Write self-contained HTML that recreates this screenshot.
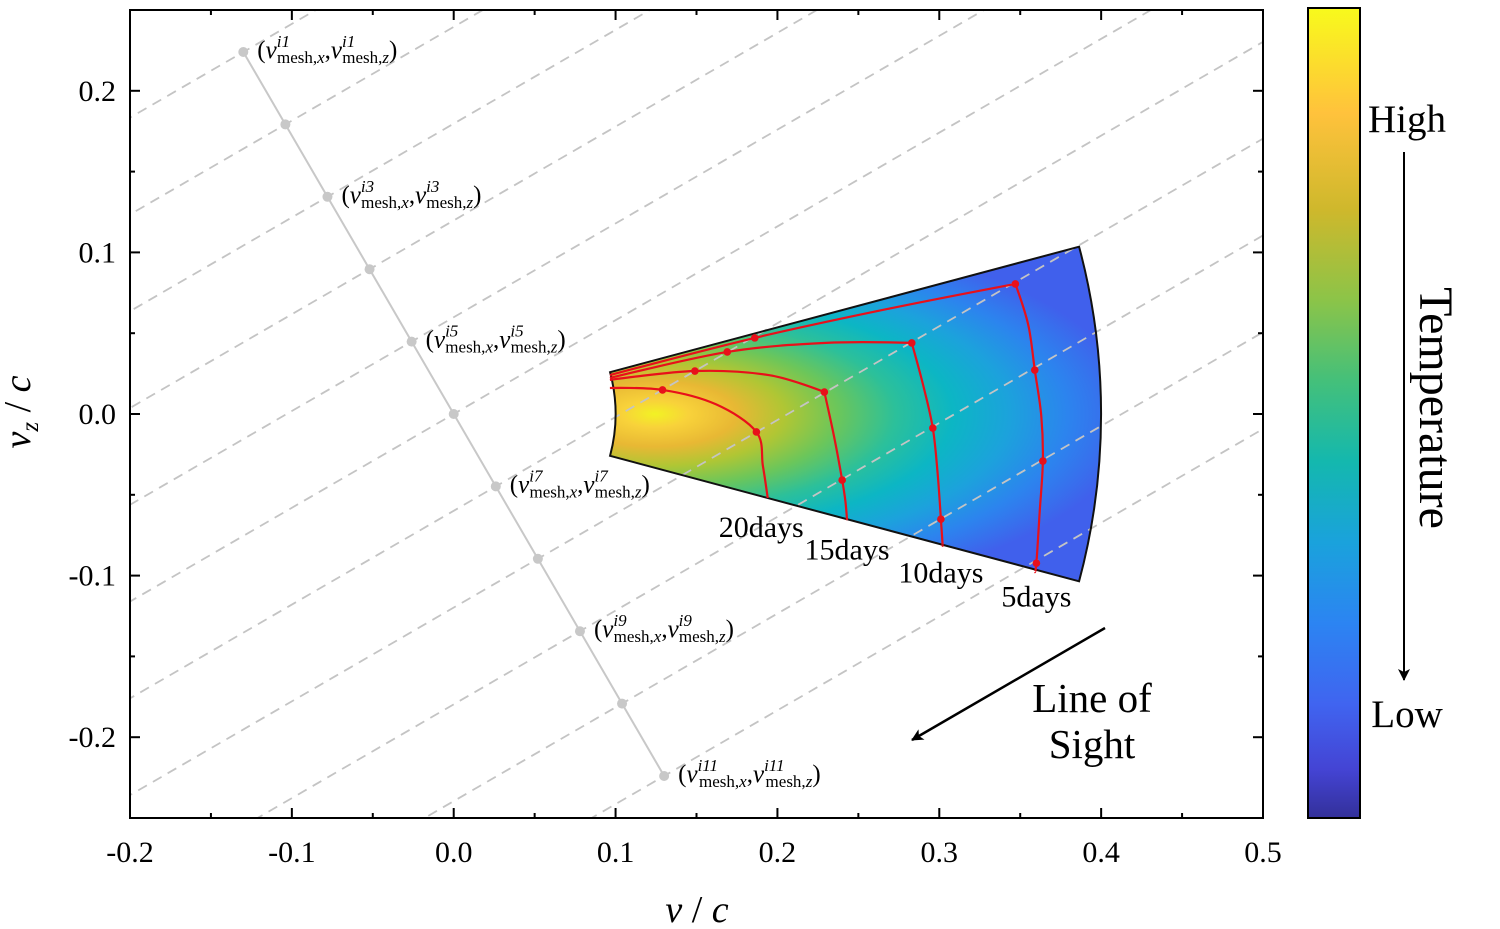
<!DOCTYPE html>
<html><head><meta charset="utf-8"><style>
html,body{margin:0;padding:0;background:#fff;width:1500px;height:929px;overflow:hidden;}
svg{display:block;font-family:"Liberation Serif",serif;}
</style></head><body>
<svg id="chart" width="1500" height="929" viewBox="0 0 1500 929">
<defs>
<clipPath id="plotclip"><rect x="130" y="10" width="1133" height="808"/></clipPath>
<radialGradient id="heat" gradientUnits="userSpaceOnUse" cx="655" cy="414" r="480" gradientTransform="translate(655 414) scale(1 0.40) translate(-655 -414)">
<stop offset="0" stop-color="#f2f224"/>
<stop offset="0.07" stop-color="#f8d23a"/>
<stop offset="0.17" stop-color="#e8b834"/>
<stop offset="0.27" stop-color="#b0c634"/>
<stop offset="0.38" stop-color="#6cc65a"/>
<stop offset="0.50" stop-color="#2cc09a"/>
<stop offset="0.62" stop-color="#0cb6c4"/>
<stop offset="0.74" stop-color="#1ca2dc"/>
<stop offset="0.86" stop-color="#2c84ee"/>
<stop offset="1" stop-color="#4060ec"/>
</radialGradient>
<linearGradient id="cbar" x1="0" y1="0" x2="0" y2="1">
<stop offset="0" stop-color="#f8fa1c"/>
<stop offset="0.13" stop-color="#ffc23c"/>
<stop offset="0.25" stop-color="#ceb82c"/>
<stop offset="0.36" stop-color="#8cc448"/>
<stop offset="0.46" stop-color="#44c07a"/>
<stop offset="0.56" stop-color="#14b8ae"/>
<stop offset="0.66" stop-color="#1aa2dc"/>
<stop offset="0.76" stop-color="#2c84f2"/>
<stop offset="0.86" stop-color="#4064f0"/>
<stop offset="0.94" stop-color="#4444d4"/>
<stop offset="1" stop-color="#33309a"/>
</linearGradient>
<marker id="ah" markerWidth="12" markerHeight="12" refX="11" refY="6" orient="auto" markerUnits="userSpaceOnUse"><path d="M0,0 L12,6 L0,12 L3,6 z" fill="#000"/></marker>
</defs>
<g id="plot"></g>
</svg>
<script>
const xDomain=[-0.2,0.5], yDomain=[-0.25,0.25];
const xTicks=[-0.2,-0.1,0.0,0.1,0.2,0.3,0.4,0.5];
const xTickLabels=["-0.2","-0.1","0.0","0.1","0.2","0.3","0.4","0.5"];
const yTicks=[-0.2,-0.1,0.0,0.1,0.2];
const yTickLabels=["-0.2","-0.1","0.0","0.1","0.2"];
const wedgeR=[0.1,0.4];
const wedgeAngleDeg=[-15,15];
const meshStep=[0.026,-0.0448];
const meshIndex=[-5,-4,-3,-2,-1,0,1,2,3,4,5];
const meshLabelIdx=[1,3,5,7,9,11];
const contourNames=["5days","10days","15days","20days"];
const contour5x=[0.0965,0.186,0.268,0.347,0.355,0.359,0.363,0.364,0.362,0.360,0.359];
const contour5y=[0.0241,0.0471,0.0650,0.0805,0.0550,0.0272,-0.0010,-0.0291,-0.0610,-0.0923,-0.0978];
const contour10x=[0.0965,0.169,0.230,0.283,0.290,0.296,0.299,0.301,0.302,0.302];
const contour10y=[0.0223,0.0384,0.0440,0.0440,0.0180,-0.0087,-0.0370,-0.0651,-0.0800,-0.0811];
const contour15x=[0.0965,0.149,0.195,0.229,0.235,0.240,0.242,0.243];
const contour15y=[0.0211,0.0266,0.0240,0.0136,-0.0140,-0.0409,-0.0540,-0.0657];
const contour20x=[0.0965,0.129,0.162,0.187,0.191,0.194];
const contour20y=[0.0161,0.0149,0.0060,-0.0111,-0.0320,-0.0520];
const contourDotsX=[0.347,0.359,0.364,0.360,0.186,0.169,0.149,0.129,0.283,0.296,0.301,0.229,0.240,0.187];
const contourDotsY=[0.0805,0.0272,-0.0291,-0.0923,0.0471,0.0384,0.0266,0.0149,0.0440,-0.0087,-0.0651,0.0136,-0.0409,-0.0111];
const dayLabelX=[0.360,0.301,0.243,0.190];
const dayLabelY=[-0.113,-0.098,-0.084,-0.070];

const X0=130,X1=1263,Y0=818,Y1=10;
const sx=v=>X0+(v-xDomain[0])/(xDomain[1]-xDomain[0])*(X1-X0);
const sy=v=>Y0-(v-yDomain[0])/(yDomain[1]-yDomain[0])*(Y0-Y1);
const NS="http://www.w3.org/2000/svg";
const g=document.getElementById('plot');
function mk(tag,attrs,parent){const e=document.createElementNS(NS,tag);for(const k in attrs)e.setAttribute(k,attrs[k]);(parent||g).appendChild(e);return e;}
function smooth(pts){
  const n=pts.length;
  const tan=pts.map((p,i)=>{
    if(i===0||i===n-1)return [0,0];
    const a=pts[i-1],b=pts[i+1];
    const v1=[p[0]-a[0],p[1]-a[1]],v2=[b[0]-p[0],b[1]-p[1]];
    const cos=(v1[0]*v2[0]+v1[1]*v2[1])/(Math.hypot(...v1)*Math.hypot(...v2));
    if(cos<0.6)return [0,0];
    return [(b[0]-a[0])/6,(b[1]-a[1])/6];
  });
  let d=`M${pts[0][0]},${pts[0][1]}`;
  for(let i=0;i<n-1;i++){
    const p1=pts[i],p2=pts[i+1];
    d+=` C${p1[0]+tan[i][0]},${p1[1]+tan[i][1]} ${p2[0]-tan[i+1][0]},${p2[1]-tan[i+1][1]} ${p2[0]},${p2[1]}`;
  }
  return d;
}

const cg=mk('g',{'clip-path':'url(#plotclip)'});



const a0=wedgeAngleDeg[0]*Math.PI/180,a1=wedgeAngleDeg[1]*Math.PI/180;
const pr=(r,a)=>[sx(r*Math.cos(a)),sy(r*Math.sin(a))];
const rin=sx(wedgeR[0])-sx(0), rout=sx(wedgeR[1])-sx(0);
const p1=pr(wedgeR[0],a1),p2=pr(wedgeR[1],a1),p3=pr(wedgeR[1],a0),p4=pr(wedgeR[0],a0);
const wd=`M${p1} L${p2} A${rout},${rout} 0 0 1 ${p3} L${p4} A${rin},${rin} 0 0 0 ${p1} Z`;
const wedge=mk('path',{d:wd,fill:'url(#heat)',stroke:'none'},cg);



meshIndex.forEach(k=>{
  const px=k*meshStep[0], py=k*meshStep[1];
  const len=Math.hypot(meshStep[0],meshStep[1]);
  const dx=-meshStep[1]/len, dy=meshStep[0]/len;
  const l=mk('line',{x1:sx(px-dx),y1:sy(py-dy),x2:sx(px+dx),y2:sy(py+dy),stroke:'#c4c4c4','stroke-width':1.8,'stroke-dasharray':'10,7'},cg);
  
  
});

const wo=mk('path',{d:wd,fill:'none',stroke:'#111','stroke-width':2},cg);



const cxs=[contour5x,contour10x,contour15x,contour20x],cys=[contour5y,contour10y,contour15y,contour20y];
cxs.forEach((xs,i)=>{
  const pts=xs.map((x,j)=>[sx(x),sy(cys[i][j])]);
  const pl=mk('path',{d:smooth(pts),fill:'none',stroke:'#e8101a','stroke-width':2.2,'stroke-linejoin':'round'},cg);
  
  
});
contourDotsX.forEach((x,i)=>{
  const c=mk('circle',{cx:sx(x),cy:sy(contourDotsY[i]),r:3.8,fill:'#e8101a'},cg);
  
  
});
contourNames.forEach((n,i)=>{
  const t=mk('text',{x:sx(dayLabelX[i]),y:sy(dayLabelY[i])+10,'font-size':30,'text-anchor':'middle'},cg);
  t.textContent=n;
  
  
});

const gl=mk('line',{x1:sx(meshIndex[0]*meshStep[0]),y1:sy(meshIndex[0]*meshStep[1]),x2:sx(meshIndex[10]*meshStep[0]),y2:sy(meshIndex[10]*meshStep[1]),stroke:'#c8c8c8','stroke-width':2},cg);


meshIndex.forEach((k,i)=>{
  const x=sx(k*meshStep[0]),y=sy(k*meshStep[1]);
  const c=mk('circle',{cx:x,cy:y,r:5,fill:'#c8c8c8'},cg);
  
  
  if(meshLabelIdx.includes(i+1)){
    const t=mk('text',{x:x+14,y:y+6,'font-size':25},cg);
    
    
    const id='i'+(i+1);
    const back=id.length*6+1;
    t.innerHTML=`(<tspan font-style="italic">v</tspan><tspan font-size="17" dy="-11" font-style="italic">${id}</tspan><tspan font-size="17" dx="-${back}" dy="16">mesh,<tspan font-style="italic">x</tspan></tspan><tspan dy="-5">,</tspan><tspan font-style="italic">v</tspan><tspan font-size="17" dy="-11" font-style="italic">${id}</tspan><tspan font-size="17" dx="-${back}" dy="16">mesh,<tspan font-style="italic">z</tspan></tspan><tspan dy="-5">)</tspan>`;
  }
});

const fr=mk('rect',{x:X0,y:Y1,width:X1-X0,height:Y0-Y1,fill:'none',stroke:'#000','stroke-width':2});



for(let v=xDomain[0];v<=xDomain[1]+1e-9;v+=0.05){
  const major=Math.abs(Math.round(v*10)-v*10)<1e-6, L=major?10:5, x=sx(v);
  mk('line',{x1:x,y1:Y0,x2:x,y2:Y0-L,stroke:'#000','stroke-width':2});
  mk('line',{x1:x,y1:Y1,x2:x,y2:Y1+L,stroke:'#000','stroke-width':2});
}
for(let v=-0.25;v<=0.25+1e-9;v+=0.05){
  const major=Math.abs(Math.round(v*10)-v*10)<1e-6, L=major?10:5, y=sy(v);
  mk('line',{x1:X0,y1:y,x2:X0+L,y2:y,stroke:'#000','stroke-width':2});
  mk('line',{x1:X1,y1:y,x2:X1-L,y2:y,stroke:'#000','stroke-width':2});
}
xTicks.forEach((v,i)=>{
  const t=mk('text',{x:sx(v),y:862,'font-size':30,'text-anchor':'middle'});
  t.textContent=xTickLabels[i];
  
  
});
yTicks.forEach((v,i)=>{
  const t=mk('text',{x:116,y:sy(v)+10,'font-size':30,'text-anchor':'end'});
  t.textContent=yTickLabels[i];
  
  
});
const xt=mk('text',{x:697,y:922,'font-size':38,'text-anchor':'middle'});
xt.innerHTML='<tspan font-style="italic">v</tspan> / <tspan font-style="italic">c</tspan>';


const yt=mk('text',{x:0,y:0,'font-size':38,'text-anchor':'middle',transform:'translate(30 412) rotate(-90)'});
yt.innerHTML='<tspan font-style="italic">v</tspan><tspan font-size="25" font-style="italic" dy="8">z</tspan><tspan dy="-8"> / </tspan><tspan font-style="italic">c</tspan>';



const la=mk('line',{x1:1105,y1:628,x2:912,y2:740,stroke:'#000','stroke-width':2.5,'marker-end':'url(#ah)'});


[['Line of',712],['Sight',758]].forEach(([s,y])=>{
  const t=mk('text',{x:1092,y:y,'font-size':41,'text-anchor':'middle'});t.textContent=s;
  
  
});

const cb=mk('rect',{x:1308,y:8,width:52,height:810,fill:'url(#cbar)',stroke:'#000','stroke-width':2});


[['High',132],['Low',727]].forEach(([s,y])=>{
  const t=mk('text',{x:1407,y:y,'font-size':39,'text-anchor':'middle'});t.textContent=s;
  
  
});
const ca=mk('line',{x1:1404,y1:152,x2:1404,y2:680,stroke:'#000','stroke-width':2,'marker-end':'url(#ah)'});


const tt=mk('text',{x:0,y:0,'font-size':48,'text-anchor':'middle',transform:'translate(1420 408) rotate(90)'});
tt.textContent='Temperature';


</script>
</body></html>
